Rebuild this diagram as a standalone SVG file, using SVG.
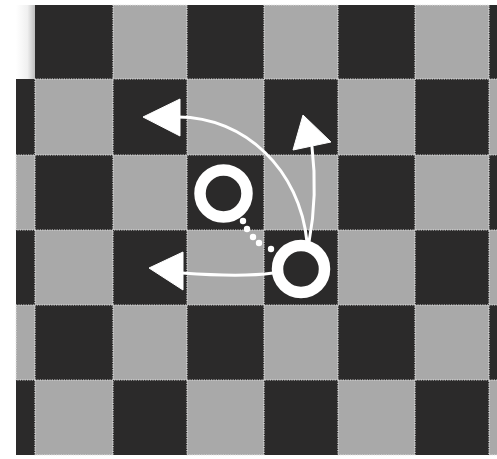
<svg xmlns="http://www.w3.org/2000/svg" width="497" height="459" viewBox="0 0 497 459">
  <defs>
    <style>
      .l { fill: #a9a9a9; stroke: #e6e6e6; stroke-width: 1.2; stroke-dasharray: 1.2 1.2; }
      .ring { fill: none; stroke: #ffffff; stroke-width: 11.5; }
      .line { fill: none; stroke: #ffffff; stroke-width: 3; stroke-linecap: round; }
      .head { fill: #ffffff; stroke: #ffffff; stroke-width: 1; stroke-linejoin: round; }
      .dot { fill: #ffffff; }
    </style>
    <linearGradient id="fade" x1="0" y1="0" x2="1" y2="0">
      <stop offset="0" stop-color="#ffffff"/>
      <stop offset="0.6" stop-color="#f0f0f0"/>
      <stop offset="1" stop-color="#bdbdbd"/>
    </linearGradient>
  </defs>
  <rect x="0" y="0" width="497" height="459" fill="#ffffff"/>
  <g id="board">
    <rect x="16" y="5" width="481" height="450" fill="#2b2a2a"/>
    <rect x="16" y="5" width="19" height="74" fill="url(#fade)"/>
    <!-- row 0 -->
    <rect class="l" x="113" y="5" width="74" height="74"/>
    <rect class="l" x="264" y="5" width="74" height="74"/>
    <rect class="l" x="415" y="5" width="74" height="74"/>
    <!-- row 1 -->
    <rect class="l" x="35" y="79" width="78" height="76"/>
    <rect class="l" x="187" y="79" width="77" height="76"/>
    <rect class="l" x="338" y="79" width="77" height="76"/>
    <rect class="l" x="489" y="79" width="10" height="76"/>
    <!-- row 2 -->
    <rect class="l" x="16" y="155" width="19" height="75"/>
    <rect class="l" x="113" y="155" width="74" height="75"/>
    <rect class="l" x="264" y="155" width="74" height="75"/>
    <rect class="l" x="415" y="155" width="74" height="75"/>
    <!-- row 3 -->
    <rect class="l" x="35" y="230" width="78" height="75"/>
    <rect class="l" x="187" y="230" width="77" height="75"/>
    <rect class="l" x="338" y="230" width="77" height="75"/>
    <rect class="l" x="489" y="230" width="10" height="75"/>
    <!-- row 4 -->
    <rect class="l" x="16" y="305" width="19" height="75"/>
    <rect class="l" x="113" y="305" width="74" height="75"/>
    <rect class="l" x="264" y="305" width="74" height="75"/>
    <rect class="l" x="415" y="305" width="74" height="75"/>
    <!-- row 5 -->
    <rect class="l" x="35" y="380" width="78" height="75"/>
    <rect class="l" x="187" y="380" width="77" height="75"/>
    <rect class="l" x="338" y="380" width="77" height="75"/>
    <rect class="l" x="489" y="380" width="10" height="75"/>
  </g>
  <g id="connectors">
    <path class="line" d="M 307 242 C 300 170 245 117 178 117"/>
    <polygon class="head" points="143,117 180,99 180,136"/>
    <path class="line" d="M 309 242 C 316 205 315 172 312 147"/>
    <polygon class="head" points="303,115 293,150 331,142"/>
    <path class="line" d="M 273 273 C 245 277 210 275 182 273"/>
    <polygon class="head" points="149,268 183,252 183,290"/>
    <g id="path-dots">
      <circle class="dot" cx="243" cy="221" r="3.2"/>
      <circle class="dot" cx="247" cy="229" r="3.2"/>
      <circle class="dot" cx="253" cy="237" r="3.2"/>
      <circle class="dot" cx="259" cy="243" r="3.2"/>
      <circle class="dot" cx="271" cy="249" r="3.2"/>
    </g>
  </g>
  <g id="piece-start">
    <circle class="ring" cx="223.5" cy="193.5" r="23.5"/>
  </g>
  <g id="piece-current">
    <circle class="ring" cx="301" cy="269" r="23.5"/>
  </g>
</svg>
